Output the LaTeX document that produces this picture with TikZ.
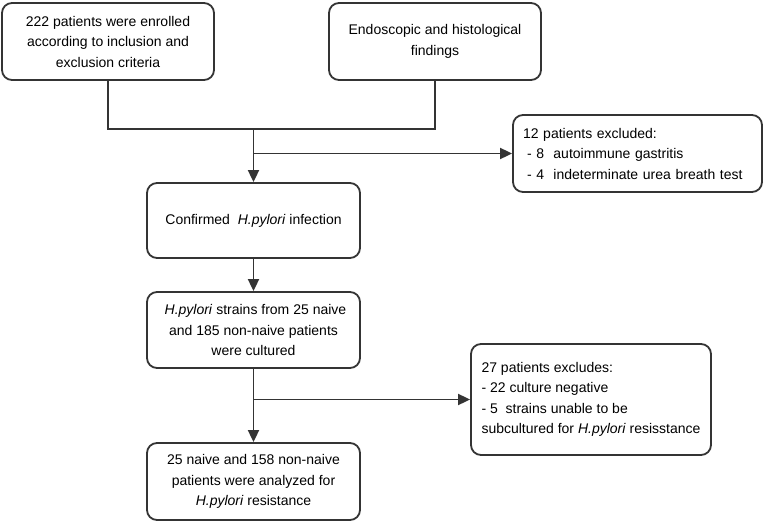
\documentclass[tikz,border=0pt]{standalone}
\usepackage{fontspec}
\setmainfont{Liberation Sans}
\definecolor{ink}{RGB}{52,52,52}
\usetikzlibrary{arrows.meta,calc}

\begin{document}
\begin{tikzpicture}[x=1pt,y=1pt,
  box/.style={draw=ink,line width=1.8pt,rounded corners=10pt,align=center,inner sep=5pt,
    font=\fontsize{14}{20.5}\selectfont},
  lbox/.style={box,align=left,inner xsep=10pt},
  line/.style={draw=ink,line width=1.8pt},
  arr/.style={line,-{Triangle[length=12pt,width=11pt]}}]
\useasboundingbox (0,0) rectangle (764,-525);
\node [box,minimum width=212pt,minimum height=77pt] (enr) at (108,-41.5) {222 patients were enrolled\\according to inclusion and\\exclusion criteria};
\node [box,minimum width=212pt,minimum height=77pt] (fnd) at (435,-41.5) {Endoscopic and histological\\findings};
\node [box,minimum width=213pt,minimum height=75pt] (inf) at (253.5,-220.5) {Confirmed\ \ \textit{H.pylori} infection};
\node [lbox,text width=229pt,minimum height=77pt] (ex1) at (637.5,-153.5) {12 patients excluded:\\\hspace{4pt}- 8\ \ autoimmune gastritis\\\hspace{4pt}- 4\ \ indeterminate urea breath test};
\node [box,minimum width=213pt,minimum height=76pt] (cul) at (253.5,-330) {\ \textit{H.pylori} strains from 25 naive\\and 185 non-naive patients\\were cultured};
\node [box,minimum width=213pt,minimum height=77pt] (res) at (253.5,-481.5) {25 naive and 158 non-naive\\patients were analyzed for\\\textit{H.pylori} resistance};
\node [lbox,minimum width=240pt,minimum height=111pt] (ex2) at (591,-399.5) {27 patients excludes:\\- 22 culture negative\\- 5\ \ strains unable to be\\subcultured for \textit{H.pylori} resisstance};
\coordinate (jn) at (253.5,-129);
\coordinate (ja) at (inf.north |- ex1.west);
\coordinate (jb) at (cul.south |- ex2.west);
\draw [line] (enr.south) |- (jn) -| (fnd.south);
\draw [arr] (jn) -- (inf.north);
\draw [arr] (ja) -- (ex1.west);
\draw [arr] (inf.south) -- (cul.north);
\draw [arr] (cul.south) -- (res.north);
\draw [arr] (jb) -- (ex2.west);
\end{tikzpicture}
\end{document}
